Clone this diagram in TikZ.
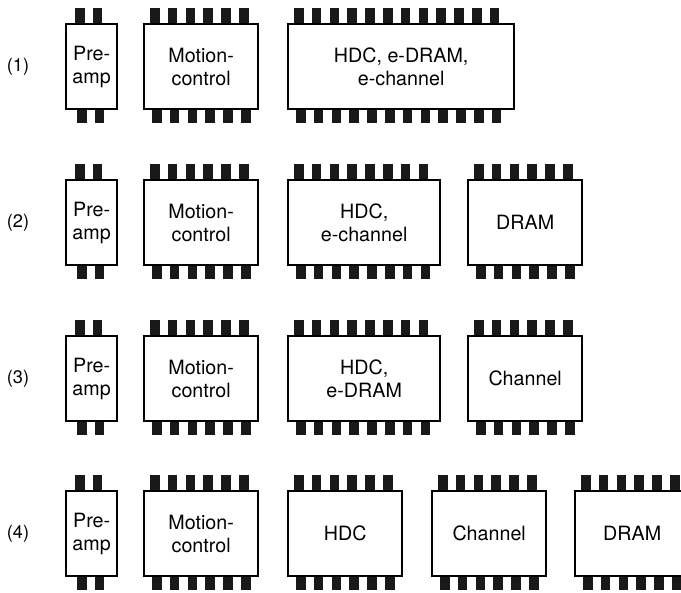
\documentclass[tikz,border=0pt]{standalone}
\usepackage{fontspec}
\setmainfont{TeX Gyre Heros}

\tikzset{
  chip/.style={draw, line width=2pt, fill=white, anchor=north west, inner sep=0pt,
    minimum height=25.5mm, align=center, font=\fontsize{16.8}{19.6}\selectfont},
  pin/.style={fill=black!90},
  rowlabel/.style={font=\fontsize{15.5}{18}\selectfont}
}

% pins of one chip: left, top, number of pins, first offset
\newcommand{\chippins}[4]{%
  \foreach \k in {1,...,#3} {
    \fill[pin] ({#1+#4+(\k-1)*17.8}, #2+2) rectangle ++(9.6,-17);
    \fill[pin] ({#1+#4+2+(\k-1)*17.8}, #2+83) rectangle ++(9.6,17);
  }%
}

\begin{document}
\begin{tikzpicture}[x=0.3mm, y=-0.3mm]
  \useasboundingbox (0,0) rectangle (681,592);
  \clip (0,0) rectangle (681,592);

  % (1): pre-amp, motion control, one big chip
  \node[rowlabel] (lab1) at (18, 67) {(1)};
  \chippins{65}{23}{2}{10}
  \chippins{143}{23}{6}{7}
  \chippins{287}{23}{12}{7}
  \node[chip, minimum width=15.3mm] (pre1) at (65, 23) {Pre-\\amp};
  \node[chip, minimum width=34.2mm] (mc1) at (143, 23) {Motion-\\control};
  \node[chip, minimum width=67.8mm] (hdc1) at (287, 23) {HDC, e-DRAM,\\e-channel};

  % (2): channel embedded, separate DRAM
  \node[rowlabel] (lab2) at (18, 223) {(2)};
  \chippins{65}{179}{2}{10}
  \chippins{143}{179}{6}{7}
  \chippins{287}{179}{8}{7}
  \chippins{467}{179}{6}{7}
  \node[chip, minimum width=15.3mm] (pre2) at (65, 179) {Pre-\\amp};
  \node[chip, minimum width=34.2mm] (mc2) at (143, 179) {Motion-\\control};
  \node[chip, minimum width=45.6mm] (hdc2) at (287, 179) {HDC,\\e-channel};
  \node[chip, minimum width=34.2mm] (dram2) at (467, 179) {DRAM};

  % (3): DRAM embedded, separate channel
  \node[rowlabel] (lab3) at (18, 379) {(3)};
  \chippins{65}{335}{2}{10}
  \chippins{143}{335}{6}{7}
  \chippins{287}{335}{8}{7}
  \chippins{467}{335}{6}{7}
  \node[chip, minimum width=15.3mm] (pre3) at (65, 335) {Pre-\\amp};
  \node[chip, minimum width=34.2mm] (mc3) at (143, 335) {Motion-\\control};
  \node[chip, minimum width=45.6mm] (hdc3) at (287, 335) {HDC,\\e-DRAM};
  \node[chip, minimum width=34.2mm] (chan3) at (467, 335) {Channel};

  % (4): all separate
  \node[rowlabel] (lab4) at (18, 534) {(4)};
  \chippins{65}{490}{2}{10}
  \chippins{143}{490}{6}{7}
  \chippins{287}{490}{6}{7}
  \chippins{431}{490}{6}{7}
  \chippins{574}{490}{6}{7}
  \node[chip, minimum width=15.3mm] (pre4) at (65, 490) {Pre-\\amp};
  \node[chip, minimum width=34.2mm] (mc4) at (143, 490) {Motion-\\control};
  \node[chip, minimum width=34.2mm] (hdc4) at (287, 490) {HDC};
  \node[chip, minimum width=34.2mm] (chan4) at (431, 490) {Channel};
  \node[chip, minimum width=34.2mm] (dram4) at (574, 490) {DRAM};
\end{tikzpicture}
\end{document}
